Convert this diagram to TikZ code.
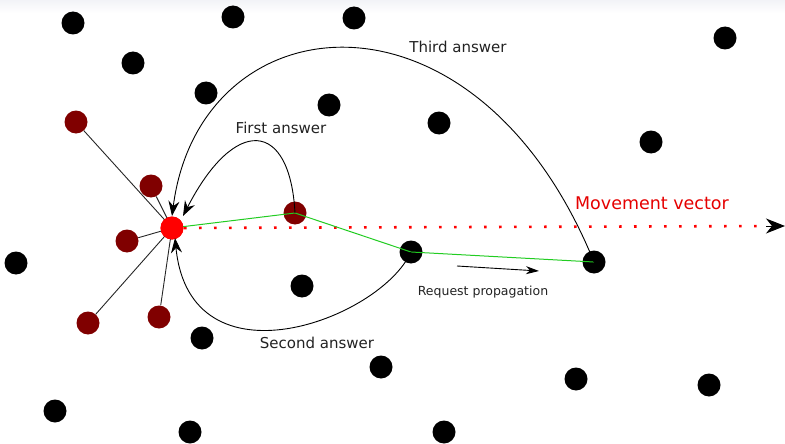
\documentclass[tikz,border=0pt]{standalone}
\usepackage{fontspec}
\setmainfont{DejaVu Sans}
\usetikzlibrary{arrows.meta,calc}
\definecolor{dred}{HTML}{800000}
\definecolor{bred}{HTML}{FF0000}
\definecolor{lgreen}{HTML}{22CC22}
\definecolor{txt}{HTML}{222222}
\definecolor{topgray}{HTML}{F2F3F7}
\begin{document}
\begin{tikzpicture}[x=1pt,y=-1pt,
  bn/.style={circle,fill=black,inner sep=0pt,minimum size=23pt},
  rn/.style={circle,fill=dred,inner sep=0pt,minimum size=23pt},
  cn/.style={circle,fill=bred,inner sep=0pt,minimum size=23pt},
  lbl/.style={text=txt,font=\fontsize{15}{17}\selectfont,inner sep=0pt},
  link/.style={draw=black!85,line width=0.9pt},
  ans/.style={draw=black,line width=0.9pt,-{Stealth[length=15pt,width=11pt,inset=5pt]}},
  prop/.style={draw=lgreen,line width=1pt}]
\useasboundingbox (0,0) rectangle (785,444);
\shade[top color=topgray,bottom color=white] (0,0) rectangle (785,13);
% black nodes
\foreach \n/\x/\y in {b1/73/23,b2/233/17,b3/354/18,b4/725/38,b5/133/63,b6/206/93,b7/329/105,b8/439/123,b9/651/142,b10/16/263,b11/302/286,b12/202/338,b13/381/367,b14/576/379,b15/709/385,b16/55/411,b17/190/432,b18/444/432}
  \node[bn] (\n) at (\x,\y) {};
% red neighbours
\node[rn] (r1) at (76,122) {};
\node[rn] (r2) at (151,186) {};
\node[rn] (r3) at (127,241) {};
\node[rn] (r4) at (88,323) {};
\node[rn] (r5) at (159,317) {};
% links to neighbours
\node[cn] (c) at (172,228) {};
\foreach \r in {r1,r2,r3,r4,r5} \draw[link] (c.center) -- (\r);
% movement vector
\coordinate (mv0) at (184,228);
\coordinate (mv1) at (785,226);
\coordinate (mv2) at (766,226);
\draw[bred,line width=2.6pt,dash pattern=on 2.6pt off 12.4pt,shorten >=20pt] (mv0) -- (mv1);
\draw[black,line width=1pt,-{Stealth[length=19pt,width=15pt,inset=6pt]}] (mv2) -- (mv1);
% path nodes
\node[rn] (p1) at (295,213) {};
\node[bn] (p2) at (411,252) {};
\node[bn] (p3) at (594,262) {};
\draw[prop] (c.center) -- (p1.center) -- (p2.center) -- (p3.center);
\node[cn] at (c) {};
% answers
\coordinate (t1) at (183,216);
\coordinate (t2) at (172,216);
\coordinate (t3) at (175,238);
\draw[ans] (p1.center) .. controls (290,120) and (235,115) .. (t1);
\draw[ans] (p3.center) .. controls (475,-30) and (200,0) .. (t2);
\draw[ans] (p2.center) .. controls (380,320) and (190,390) .. (t3);
% request propagation arrow
\coordinate (ra0) at (457,266);
\coordinate (ra1) at (539,271);
\draw[black,line width=0.9pt,-{Stealth[length=13pt,width=8pt,inset=4pt]}] (ra0) -- (ra1);
% labels
\node[lbl] (l1) at (281,128) {First answer};
\node[lbl] (l2) at (458,47) {Third answer};
\node[lbl] (l3) at (317,343) {Second answer};
\node[lbl,text=bred!90!black,font=\fontsize{17.5}{20}\selectfont] (l4) at (652,203) {Movement vector};
\node[lbl,font=\fontsize{12.5}{14}\selectfont] (l5) at (483,292) {Request propagation};
\end{tikzpicture}
\end{document}
